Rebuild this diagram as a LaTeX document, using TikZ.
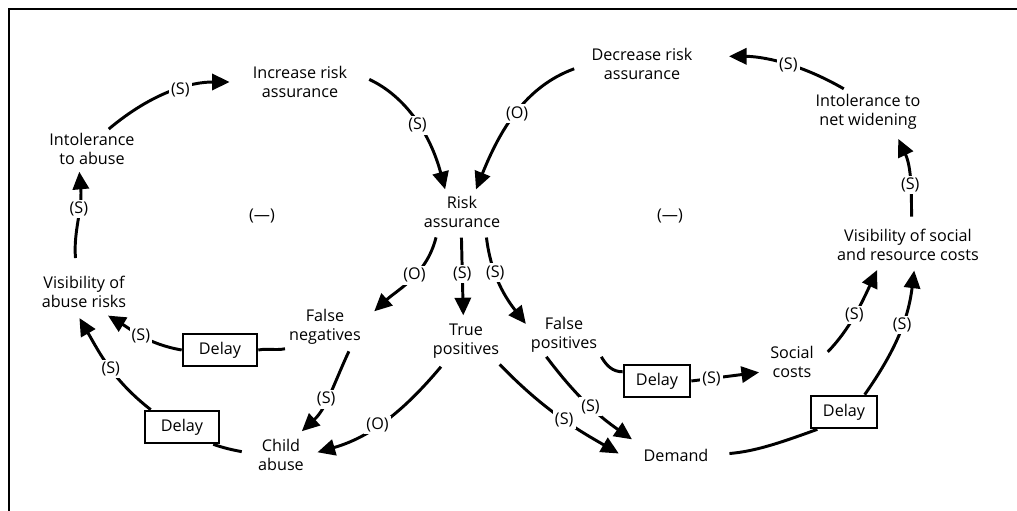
\documentclass[tikz,border=0pt]{standalone}
\usepackage{fontspec}
\setmainfont{Open Sans}
\usetikzlibrary{arrows.meta}

\begin{document}
\begin{tikzpicture}[x=0.025cm, y=0.025cm,
        factor/.style={align=center, inner sep=2pt, outer sep=1pt, font=\fontsize{11.5}{13.5}\selectfont},
        delaybox/.style={rectangle, draw, line width=1.9pt, minimum height=0.8cm, inner sep=2pt, font=\fontsize{11.5}{13.5}\selectfont},
        link/.style={line width=2.1pt, -{Triangle[length=12.5pt, width=11.5pt]}},
        plainlink/.style={line width=2.1pt},
        sign/.style={fill=white, inner sep=1.5pt, font=\fontsize{11.5}{13.5}\selectfont}]
                    \useasboundingbox (0,0) rectangle (1017,-511);
                    \draw[line width=1.2pt] (9,-511) -- (9,-9) -- (1017,-9);

                    % left loop
                    \node[factor] (ita) at (92,-149) {Intolerance\\to abuse};
                    \node[factor] (ira) at (300,-82) {Increase risk\\assurance};
                    \node[factor] (visa) at (84,-292) {Visibility of\\abuse risks};
                    \node[factor] (loopl) at (262,-216) {(—)};

                    % centre
                    \node[factor] (ra) at (462,-212) {Risk\\assurance};
                    \node[factor] (fneg) at (325,-327) {False\\negatives};
                    \node[factor] (tpos) at (466,-341) {True\\positives};
                    \node[factor] (fpos) at (564,-335) {False\\positives};
                    \node[factor] (child) at (281,-455) {Child\\abuse};
                    \node[factor] (demand) at (676,-455) {Demand};

                    % right loop
                    \node[factor] (dra) at (642,-64) {Decrease risk\\assurance};
                    \node[factor] (intw) at (868,-112) {Intolerance to\\net widening};
                    \node[factor] (visc) at (908,-245) {Visibility of social\\and resource costs};
                    \node[factor] (social) at (792,-362) {Social\\costs};
                    \node[factor] (loopr) at (670,-216) {(—)};

                    % delays
                    \node[delaybox, minimum width=1.85cm] (dl1) at (220,-350) {Delay};
                    \node[delaybox, minimum width=1.85cm] (dl2) at (182,-427) {Delay};
                    \node[delaybox, minimum width=1.65cm] (dl3) at (657,-381) {Delay};
                    \node[delaybox, minimum width=1.65cm] (dl4) at (844,-412) {Delay};

                    \draw[link, shorten >=13.5pt] (ita.50) to[out=40, in=180] node[sign, pos=0.55] {(S)} (ira.west);
                    \draw[link, shorten <=14pt, shorten >=2pt] (ira.12) to[out=-25, in=105] node[sign, pos=0.55] {(S)} (ra.129);
                    \draw[link, shorten <=10pt, shorten >=2pt] (dra.west) to[out=200, in=68] node[sign, pos=0.5] {(O)} (ra.57);
                    \draw[link, shorten <=2pt, shorten >=23pt] (intw.135) to[out=150, in=0] node[sign, pos=0.4] {(S)} (dra.8);
                    \draw[link, shorten <=6pt, shorten >=4pt] (visc.80) to[out=90, in=-65] node[sign, pos=0.42] {(S)} (intw.-38);
                    \draw[link, shorten <=10pt, shorten >=2pt] (visa.110) to[out=95, in=-85] node[sign, pos=0.62] {(S)} (ita.237);

                    \draw[link, shorten <=4pt, shorten >=9pt] (ra.219) to[out=256, in=43] node[sign, pos=0.43] {(O)} (fneg.10);
                    \draw[link, shorten <=4pt, shorten >=3pt] (ra.-92) -- node[sign, pos=0.48] {(S)} (tpos.97);
                    \draw[link, shorten <=4pt, shorten >=1pt] (ra.-40) to[out=-83, in=128] node[sign, pos=0.4] {(S)} (fpos.165);
                    \draw[link, shorten <=2pt, shorten >=4pt] (fneg.-41) to[out=245, in=43] node[sign, pos=0.55] {(S)} (child.50);
                    \draw[link, shorten <=4pt, shorten >=7pt] (tpos.225) to[out=230, in=16] node[sign, pos=0.55] {(O)} (child.east);
                    \draw[link, shorten <=2pt, shorten >=17pt] (tpos.-34) to[out=-46, in=150] node[sign, pos=0.5] {(S)} (demand.south west);
                    \draw[link, shorten >=6.5pt] (fpos.231) to[out=-53, in=145] node[sign, pos=0.52] {(S)} (demand.north west);

                    \draw[plainlink] (fpos.south east) to[out=-60, in=180] (dl3.165);
                    \draw[link, shorten >=5pt] (dl3.east) -- node[sign, pos=0.27] {(S)} (social.200);
                    \draw[link, shorten <=10pt, shorten >=4pt] (social.east) to[out=46, in=-115] node[sign, pos=0.52] {(S)} (visc.215);
                    \draw[plainlink, shorten <=12pt] (demand.east) to[out=5, in=200] (dl4.213);
                    \draw[link, shorten >=4pt] (dl4.40) to[out=55, in=-97] node[sign, pos=0.57] {(S)} (visc.-71);

                    \draw[plainlink] (fneg.south west) to[out=190, in=10] (dl1.east);
                    \draw[link, shorten >=5pt] (dl1.west) to[out=170, in=-31] node[sign, pos=0.49] {(S)} (visa.-48);
                    \draw[plainlink, shorten <=9pt] (child.west) to[out=165, in=-19] (dl2.-29);
                    \draw[link, shorten >=5pt] (dl2.151) to[out=142, in=-60] node[sign, pos=0.46] {(S)} (visa.248);
                \end{tikzpicture}
\end{document}
